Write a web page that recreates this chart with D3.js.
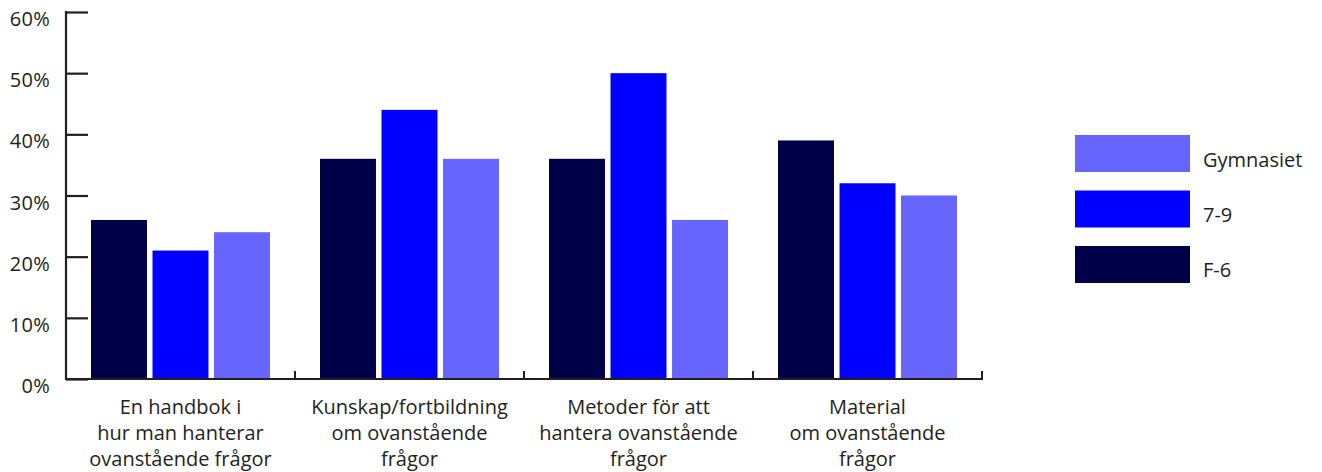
<!DOCTYPE html>
<html><head><meta charset="utf-8">
<script src="https://cdn.jsdelivr.net/npm/d3@7"></script>
<style>body{margin:0;background:#fff}svg{display:block}text{font-family:"Open Sans",sans-serif;fill:#231f20}</style>
</head><body><svg id="c" width="1322" height="472"></svg>
<script>
const categories = [["En handbok i","hur man hanterar","ovanstående frågor"],["Kunskap/fortbildning","om ovanstående","frågor"],["Metoder för att","hantera ovanstående","frågor"],["Material","om ovanstående","frågor"]];
const seriesNames = ["F-6","7-9","Gymnasiet"];
const f6 = [26,36,36,39];
const s79 = [21,44,50,32];
const gymn = [24,36,26,30];
const yTicks = [0,10,20,30,40,50,60];
const colors = ["#000048","#0000ff","#6666ff"];
const values = [f6,s79,gymn];

const svg = d3.select("#c");
const x0 = d3.scaleBand().domain(d3.range(categories.length)).range([66,982]);
const x1 = d3.scaleBand().domain(d3.range(seriesNames.length)).range([25,x0.bandwidth()-25]).paddingInner(0.09);
const y = d3.scaleLinear().domain([0,60]).range([379,12]);
const ink = "#231f20";
const fs = 20;

categories.forEach((c,i)=>{
  seriesNames.forEach((s,j)=>{
    svg.append("rect").attr("x",x0(i)+x1(j)).attr("y",y(values[j][i]))
      .attr("width",x1.bandwidth()).attr("height",y(0)-y(values[j][i])).attr("fill",colors[j]);
  });
});

const ya = svg.append("g").attr("transform","translate(66,0)")
  .call(d3.axisRight(y).tickValues(yTicks).tickSize(22).tickFormat(d=>""));
ya.select(".domain").remove();
ya.selectAll("line").attr("stroke",ink).attr("stroke-width",2.2);
svg.append("line").attr("x1",66).attr("x2",66).attr("y1",11).attr("y2",380).attr("stroke",ink).attr("stroke-width",2.2);
svg.selectAll(".ylab").data(yTicks).enter().append("text").attr("class","ylab")
  .attr("x",50).attr("y",d=>y(d)+14).attr("text-anchor","end").attr("font-size",fs).attr("letter-spacing",0.3).text(d=>d+"%");

svg.append("line").attr("x1",65).attr("x2",983).attr("y1",379).attr("y2",379).attr("stroke",ink).attr("stroke-width",2.2);
const xt = d3.range(1,categories.length).map(i=>x0(i)).concat([x0.range()[1]]);
svg.selectAll(".xt").data(xt).enter().append("line")
  .attr("x1",d=>d).attr("x2",d=>d).attr("y1",379).attr("y2",371).attr("stroke",ink).attr("stroke-width",2);

categories.forEach((lines,i)=>{
  const cx = x0(i)+x0.bandwidth()/2;
  const t = svg.append("text").attr("x",cx).attr("y",414).attr("text-anchor","middle").attr("font-size",fs);
  lines.forEach((l,k)=>t.append("tspan").attr("x",cx).attr("dy",k?26:0).text(l));
});

const legOrder = [2,1,0];
legOrder.forEach((j,k)=>{
  svg.append("rect").attr("x",1075).attr("y",135+k*55.5).attr("width",115).attr("height",37).attr("fill",colors[j]);
  svg.append("text").attr("x",1203).attr("y",167+k*55).attr("font-size",fs).text(seriesNames[j]);
});
</script></body></html>
